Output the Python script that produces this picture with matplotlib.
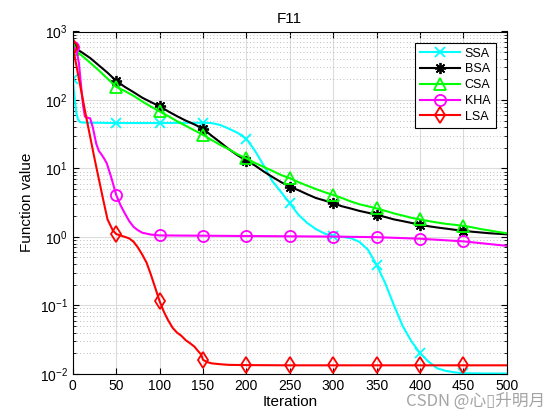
import numpy as np
import matplotlib
matplotlib.use("Agg")
import matplotlib.pyplot as plt
from matplotlib.ticker import LogLocator, NullFormatter

plt.rcParams['font.family'] = ['Liberation Sans', 'DejaVu Sans']
plt.rcParams['mathtext.fontset'] = 'custom'
plt.rcParams['mathtext.rm'] = 'Liberation Sans'
plt.rcParams['mathtext.it'] = 'Liberation Sans'

# values (iteration, best function value)
ssa_it = [0, 2, 4, 6, 8, 10, 20, 50, 100, 150, 160, 170, 180, 190, 200, 210, 220,
          230, 240, 250, 260, 270, 280, 290, 300, 310, 320, 330, 340, 350, 360,
          370, 380, 390, 400, 410, 420, 430, 440, 450, 475, 500]
ssa_val = [200, 110, 65, 52, 48, 47, 46.5, 46, 46, 46.5, 46, 43, 38, 33, 27, 18, 11,
           6.5, 4.5, 3.1, 2.1, 1.6, 1.3, 1.12, 1.03, 1.0, 0.96, 0.85, 0.65, 0.39, 0.21,
           0.1, 0.05, 0.03, 0.02, 0.015, 0.012, 0.011, 0.0105, 0.0102, 0.0101, 0.0101]

bsa_it = list(range(0, 501, 10))
bsa_val = [600, 500, 410, 320, 250, 190, 155, 130, 108, 93, 81, 68, 58, 50, 44, 38,
           30, 24, 19, 15.5, 13, 11, 9, 7.5, 6.3, 5.4, 4.8, 4.2, 3.7, 3.4, 3.1, 2.8,
           2.6, 2.4, 2.25, 2.1, 1.95, 1.8, 1.7, 1.6, 1.5, 1.43, 1.37, 1.32, 1.27,
           1.23, 1.19, 1.16, 1.13, 1.11, 1.09]

csa_it = list(range(0, 501, 10))
csa_val = [560, 450, 350, 270, 205, 155, 135, 115, 95, 80, 68, 58, 49, 42, 36, 31,
           26, 22, 19, 16, 14, 12, 10.5, 9.2, 8, 7.2, 6.3, 5.6, 5, 4.5, 4.1, 3.7,
           3.3, 3.0, 2.8, 2.6, 2.4, 2.2, 2.05, 1.9, 1.8, 1.7, 1.62, 1.55, 1.5, 1.45,
           1.38, 1.3, 1.24, 1.18, 1.13]

kha_it = [0, 4, 7, 10, 12, 14, 17, 20, 23, 27, 30, 33, 36, 39, 44, 50, 55, 60, 65,
          70, 75, 80, 90, 100, 150, 200, 250, 300, 350, 400, 450, 500]
kha_val = [600, 550, 350, 140, 80, 57, 55, 54, 40, 23, 18, 16, 14, 12, 7.6, 4.1, 2.9,
           2.2, 1.7, 1.4, 1.25, 1.15, 1.08, 1.05, 1.04, 1.03, 1.02, 1.01, 0.99, 0.94,
           0.86, 0.74]

lsa_it = [0, 5, 10, 15, 20, 25, 30, 35, 40, 43, 46, 50, 55, 60, 65, 70, 75, 80, 85,
          90, 95, 100, 105, 110, 115, 120, 125, 130, 135, 140, 145, 148, 150, 155,
          160, 170, 180, 200, 250, 300, 350, 400, 450, 500]
lsa_val = [600, 279, 129, 60, 29, 14, 7, 3.5, 1.8, 1.5, 1.25, 1.1, 1.05, 1.0, 0.95,
           0.85, 0.7, 0.55, 0.42, 0.28, 0.18, 0.115, 0.08, 0.06, 0.047, 0.04, 0.036,
           0.031, 0.028, 0.025, 0.021, 0.019, 0.016, 0.0148, 0.0142, 0.0138, 0.0135,
           0.0134, 0.0133, 0.0133, 0.0133, 0.0133, 0.0133, 0.0133]

series = [
    ("SSA", ssa_it, ssa_val, (0, 1, 1), "x", 7),
    ("BSA", bsa_it, bsa_val, "k", (8, 2, 0), 8),
    ("CSA", csa_it, csa_val, (0, 1, 0), "^", 8),
    ("KHA", kha_it, kha_val, (1, 0, 1), "o", 8),
    ("LSA", lsa_it, lsa_val, (1, 0, 0), "d", 8),
]

fig = plt.figure(figsize=(5.6, 4.2), dpi=100)
ax = fig.add_axes([0.13, 0.11, 0.775, 0.815])

for name, it, val, col, mk, ms in series:
    marks = [i for i, t in enumerate(it) if t % 50 == 0 and t < 500]
    ax.semilogy(it, val, color=col, lw=1.5, marker=mk, markevery=marks,
                ms=ms, mfc="none", mec=col, mew=1.3, label=name)

ax.set_xlim(0, 500)
ax.set_ylim(1e-2, 1e3)
ax.set_xticks(np.arange(0, 501, 50))
ax.yaxis.set_major_locator(LogLocator(base=10, numticks=10))
ax.yaxis.set_minor_locator(LogLocator(base=10, subs=np.arange(2, 10), numticks=10))
ax.yaxis.set_minor_formatter(NullFormatter())

ax.grid(True, which="major", color="#dcdcdc", lw=0.8)
ax.grid(True, which="minor", axis="y", color="#a8a8a8", lw=0.6, ls=(0, (1, 3)))
ax.set_axisbelow(True)
ax.tick_params(which="both", direction="in", top=True, right=True, labelsize=10)
ax.tick_params(which="major", length=4)
ax.tick_params(which="minor", length=2)
for s in ax.spines.values():
    s.set_linewidth(0.8)

ax.set_xlabel("Iteration", fontsize=11, labelpad=2)
ax.set_ylabel("Function value", fontsize=11)
ax.set_title("F11", fontsize=11)

leg = ax.legend(loc="upper right", fontsize=9, handlelength=3.2, numpoints=1,
                fancybox=False, edgecolor="k", framealpha=1, borderaxespad=0.9,
                labelspacing=0.3, handletextpad=0.4, borderpad=0.4)
leg.get_frame().set_linewidth(0.8)

fig.text(0.973, 0.045, "CSDN @心\u25af升明月", ha="right", va="center",
         fontsize=12, color="#9a9a9a", alpha=0.9,
         family=["Noto Sans CJK SC", "DejaVu Sans"])

fig.savefig("out.png", dpi=100)
